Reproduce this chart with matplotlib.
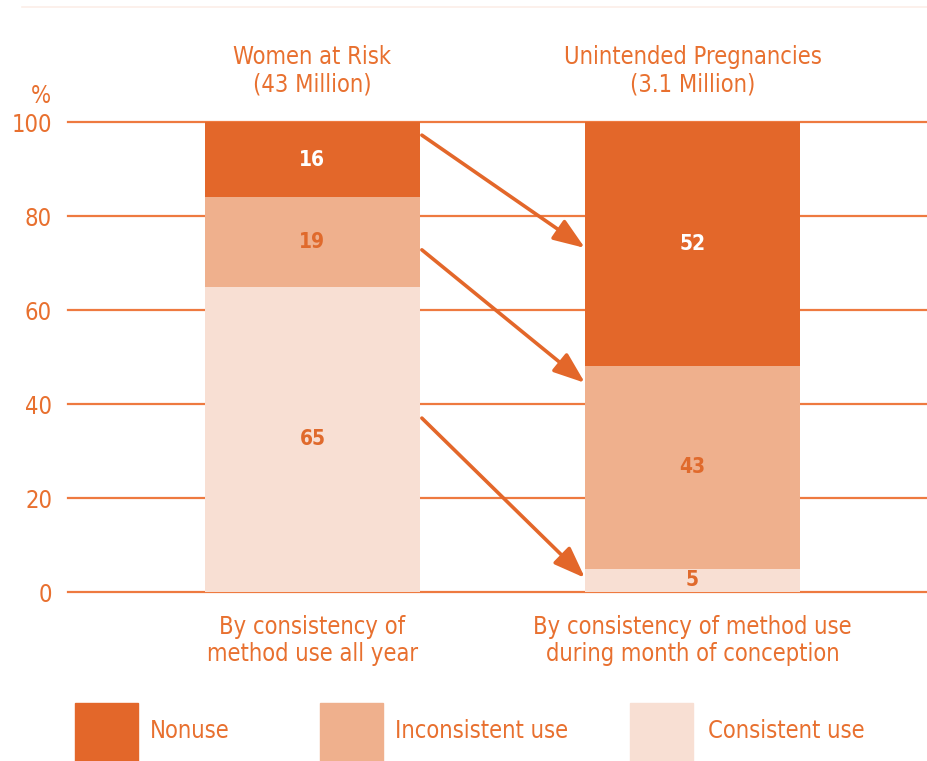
import matplotlib
matplotlib.use("Agg")
import matplotlib.pyplot as plt
from matplotlib.patches import Rectangle, FancyArrowPatch

plt.rcParams['font.family'] = ['DejaVu Sans']
plt.rcParams['font.stretch'] = 'condensed'

# Data
bar_titles = ["Women at Risk\n(43 Million)", "Unintended Pregnancies\n(3.1 Million)"]
bar_captions = ["By consistency of\nmethod use all year",
                "By consistency of method use\nduring month of conception"]
categories = ["Consistent use", "Inconsistent use", "Nonuse"]
women_at_risk = [65, 19, 16]
unintended = [5, 43, 52]
yticks = [0, 20, 40, 60, 80, 100]

ORANGE = "#E3672A"
MID = "#EFB08D"
LIGHT = "#F8DFD3"
TEXT = "#E8702F"
colors = {"Nonuse": ORANGE, "Inconsistent use": MID, "Consistent use": LIGHT}
label_colors = {"Nonuse": "white", "Inconsistent use": "#E06A2C", "Consistent use": "#E06A2C"}

W, H = 927, 761
fig = plt.figure(figsize=(W / 100, H / 100), dpi=100)
ax = fig.add_axes([68 / W, (H - 592) / H, (927 - 68) / W, 470 / H])

xpos = [0, 1]
bw = 0.566
for i, vals in enumerate([women_at_risk, unintended]):
    bottom = 0
    for cat, v in zip(categories, vals):
        ax.bar(xpos[i], v, bottom=bottom, width=bw, color=colors[cat],
               edgecolor='none', zorder=2)
        ax.text(xpos[i], bottom + v / 2, str(v), ha='center', va='center',
                color=label_colors[cat], fontsize=15, fontweight='bold', zorder=4)
        bottom += v

ax.set_xlim(-0.643, 1.617)
ax.set_ylim(0, 100)
for y in yticks:
    ax.axhline(y, color="#EE7A40", lw=1.6, zorder=1, clip_on=False)
ax.set_yticks(yticks)
ax.set_yticklabels([str(t) for t in yticks], color=TEXT, fontsize=17)
ax.tick_params(axis='y', length=0, pad=11.5)
ax.set_xticks([])
for s in ax.spines.values():
    s.set_visible(False)

# Arrows linking each segment to its share of pregnancies
left_edge = xpos[0] + bw / 2
right_edge = xpos[1] - bw / 2
starts = [97.2, 72.8, 37.0]
ends = [73.2, 44.5, 3.0]
for y0, y1 in zip(starts, ends):
    arr = FancyArrowPatch((left_edge + 0.005, y0), (right_edge, y1),
                          arrowstyle='-|>,head_length=12,head_width=4.5',
                          color=ORANGE, lw=2.6, zorder=5, mutation_scale=1.6,
                          shrinkA=0, shrinkB=0)
    ax.add_patch(arr)

# Titles above bars and captions below
for x, t in zip(xpos, bar_titles):
    ax.text(x, 110.9, t, ha='center', va='center', color=TEXT, fontsize=17,
            linespacing=1.15, clip_on=False)
for x, t in zip(xpos, bar_captions):
    ax.text(x, -10.3, t, ha='center', va='center', color=TEXT, fontsize=17,
            linespacing=1.15, clip_on=False)

ax.text(-0.715, 105.5, "%", ha='center', va='center', color=TEXT, fontsize=17,
        clip_on=False)

# Faint rule at the top
fig.add_artist(plt.Line2D([22 / W, 1], [1 - 7 / H, 1 - 7 / H],
                          color="#FCEEE7", lw=1.2))

# Legend boxes
legend_boxes = [(75, "Nonuse", 150), (320, "Inconsistent use", 395),
                (630, "Consistent use", 708)]
for x0, cat, tx in legend_boxes:
    fig.add_artist(Rectangle((x0 / W, 0), 63 / W, 58 / H,
                             transform=fig.transFigure, color=colors[cat]))
    fig.text(tx / W, 1 - 731 / H, cat, ha='left', va='center', color=TEXT,
             fontsize=17)

fig.savefig("out.png", dpi=100)
